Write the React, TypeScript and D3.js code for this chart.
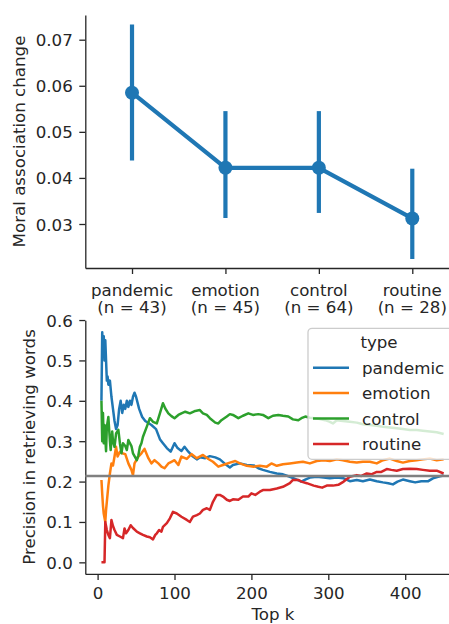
import React, { useEffect, useRef } from 'react';
import * as d3 from 'd3';

// top panel: moral association change per word type
const categories = ['pandemic', 'emotion', 'control', 'routine'];
const counts = [43, 45, 64, 28];
const meanChange = [0.0585, 0.0422, 0.0422, 0.0312];
const ciLow = [0.0438, 0.0313, 0.0324, 0.0224];
const ciHigh = [0.0733, 0.0545, 0.0545, 0.042];
const changeTicks = [0.03, 0.04, 0.05, 0.06, 0.07];

// bottom panel: precision at top k, [k, precision]
const pandemic: [number, number][] = [
  [5, 0.4], [6, 0.57], [7, 0.52], [8, 0.56], [9, 0.5], [10, 0.55], [11, 0.5], [12, 0.45], [13, 0.46],
  [14, 0.44], [16, 0.45], [18, 0.41], [20, 0.38], [22, 0.35], [24, 0.33], [26, 0.34], [28, 0.38],
  [30, 0.4], [32, 0.37], [34, 0.39], [36, 0.38], [38, 0.4], [40, 0.385], [42, 0.4], [44, 0.39],
  [46, 0.41], [48, 0.42], [50, 0.41], [54, 0.38], [58, 0.36], [62, 0.35], [66, 0.345], [70, 0.34],
  [76, 0.33], [81, 0.305], [85, 0.295], [90, 0.283], [95, 0.274], [100, 0.295], [104, 0.283],
  [109, 0.276], [113, 0.286], [118, 0.274], [124, 0.262], [129, 0.255], [133, 0.26], [140, 0.258],
  [146, 0.263], [153, 0.26], [159, 0.255], [165, 0.245], [172, 0.235], [176, 0.241], [185, 0.245],
  [194, 0.241], [203, 0.24], [209, 0.233], [215, 0.229], [224, 0.224], [233, 0.22], [241, 0.218],
  [250, 0.212], [259, 0.205], [265, 0.2], [270, 0.205], [276, 0.21], [285, 0.212], [294, 0.21],
  [302, 0.208], [311, 0.21], [320, 0.208], [328, 0.201], [337, 0.204], [345, 0.201], [354, 0.205],
  [363, 0.201], [371, 0.198], [378, 0.196], [384, 0.193], [390, 0.2], [397, 0.205], [406, 0.201],
  [413, 0.198], [421, 0.201], [430, 0.201], [436, 0.208], [445, 0.213], [450, 0.215],
];
const emotion: [number, number][] = [
  [5, 0.204], [6, 0.17], [7, 0.14], [8, 0.12], [10, 0.1], [11, 0.13], [12, 0.15], [14, 0.19],
  [16, 0.22], [18, 0.245], [20, 0.24], [22, 0.262], [24, 0.286], [26, 0.262], [29, 0.274],
  [32, 0.27], [36, 0.268], [40, 0.245], [44, 0.229], [46, 0.216], [48, 0.245], [53, 0.262],
  [57, 0.27], [61, 0.281], [66, 0.258], [70, 0.245], [74, 0.253], [79, 0.245], [83, 0.237],
  [87, 0.233], [92, 0.245], [96, 0.249], [100, 0.253], [105, 0.241], [109, 0.262], [116, 0.256],
  [122, 0.268], [129, 0.258], [137, 0.266], [144, 0.256], [150, 0.249], [157, 0.237], [163, 0.241],
  [172, 0.247], [179, 0.251], [185, 0.245], [194, 0.239], [203, 0.237], [211, 0.239], [220, 0.237],
  [226, 0.245], [233, 0.239], [241, 0.243], [250, 0.245], [259, 0.247], [267, 0.249], [276, 0.245],
  [285, 0.251], [294, 0.253], [302, 0.251], [311, 0.255], [319, 0.253], [328, 0.249], [337, 0.247],
  [345, 0.249], [354, 0.249], [363, 0.245], [371, 0.253], [380, 0.257], [389, 0.251], [397, 0.247],
  [406, 0.251], [415, 0.253], [423, 0.255], [432, 0.257], [441, 0.253], [450, 0.255],
];
const control: [number, number][] = [
  [5, 0.4], [6, 0.3], [7, 0.37], [8, 0.295], [9, 0.34], [11, 0.275], [12, 0.335], [14, 0.36],
  [16, 0.3], [17, 0.278], [19, 0.324], [20, 0.3], [22, 0.286], [24, 0.319], [27, 0.328],
  [29, 0.295], [31, 0.27], [33, 0.295], [36, 0.288], [38, 0.278], [40, 0.303], [42, 0.295],
  [44, 0.288], [46, 0.27], [51, 0.253], [53, 0.265], [55, 0.286], [57, 0.295], [59, 0.311],
  [64, 0.336], [68, 0.357], [72, 0.348], [77, 0.344], [81, 0.369], [85, 0.394], [88, 0.381],
  [92, 0.369], [96, 0.362], [100, 0.357], [105, 0.365], [109, 0.369], [114, 0.373], [120, 0.369],
  [127, 0.375], [133, 0.377], [137, 0.369], [142, 0.365], [146, 0.357], [153, 0.346], [157, 0.344],
  [161, 0.352], [168, 0.361], [172, 0.367], [176, 0.365], [183, 0.357], [189, 0.363], [196, 0.369],
  [202, 0.365], [209, 0.367], [215, 0.365], [222, 0.357], [228, 0.363], [235, 0.365], [241, 0.363],
  [248, 0.361], [254, 0.354], [261, 0.352], [265, 0.357], [270, 0.361], [276, 0.358], [283, 0.357],
  [289, 0.355], [296, 0.352], [302, 0.348], [306, 0.344], [311, 0.352], [319, 0.35], [328, 0.348],
  [337, 0.346], [345, 0.342], [354, 0.34], [363, 0.338], [371, 0.336], [380, 0.334], [389, 0.332],
  [397, 0.33], [406, 0.328], [415, 0.328], [423, 0.326], [432, 0.324], [441, 0.322], [450, 0.318],
];
const routine: [number, number][] = [
  [5, 0], [9, 0], [10, 0.1], [11, 0.09], [12, 0.08], [14, 0.068], [16, 0.06], [18, 0.105],
  [20, 0.09], [22, 0.08], [25, 0.068], [29, 0.064], [33, 0.06], [35, 0.084], [37, 0.072],
  [40, 0.08], [43, 0.092], [46, 0.085], [51, 0.076], [55, 0.072], [59, 0.068], [64, 0.064],
  [68, 0.062], [72, 0.057], [75, 0.068], [77, 0.072], [80, 0.08], [83, 0.076], [85, 0.088],
  [90, 0.097], [94, 0.109], [98, 0.125], [103, 0.121], [109, 0.113], [116, 0.105], [120, 0.1],
  [124, 0.113], [129, 0.117], [133, 0.121], [137, 0.13], [142, 0.134], [146, 0.13], [150, 0.15],
  [155, 0.167], [159, 0.167], [163, 0.163], [168, 0.155], [172, 0.152], [176, 0.156], [183, 0.155],
  [189, 0.163], [196, 0.163], [200, 0.171], [205, 0.167], [211, 0.175], [215, 0.179], [224, 0.179],
  [233, 0.183], [241, 0.187], [250, 0.196], [254, 0.204], [261, 0.204], [265, 0.2], [272, 0.196],
  [281, 0.19], [287, 0.187], [292, 0.185], [298, 0.19], [306, 0.19], [313, 0.192], [320, 0.2],
  [328, 0.212], [337, 0.216], [343, 0.214], [350, 0.22], [356, 0.218], [363, 0.224], [369, 0.224],
  [376, 0.231], [382, 0.229], [389, 0.227], [397, 0.231], [406, 0.232], [415, 0.231], [423, 0.229],
  [432, 0.227], [441, 0.227], [450, 0.22],
];
const seriesNames = ['pandemic', 'emotion', 'control', 'routine'];
const seriesColors = ['#1f77b4', '#ff7f0e', '#2ca02c', '#d62728'];
const chanceLevel = 0.2136;
const precisionTicks = [0, 0.1, 0.2, 0.3, 0.4, 0.5, 0.6];
const kTicks = [0, 100, 200, 300, 400];

const FONT = 'DejaVu Sans';
const FS = 16.67;
const INK = '#262626';

function styleAxis(g: d3.Selection<SVGGElement, unknown, null, undefined>) {
  g.attr('font-family', FONT).attr('font-size', FS);
  g.select('.domain').attr('stroke', INK).attr('stroke-width', 1.3);
  g.selectAll('.tick line').attr('stroke', INK).attr('stroke-width', 1.3);
  g.selectAll('.tick text').attr('fill', INK);
}

export default function App() {
  const ref = useRef<SVGSVGElement>(null);

  useEffect(() => {
    const svg = d3.select(ref.current);
    svg.selectAll('*').remove();

    // ---------- top panel ----------
    const x1 = d3.scaleLinear().domain([-0.5, 3.5]).range([85.3, 459]);
    const y1 = d3.scaleLinear().domain([0.02045, 0.07536]).range([268, 15]);

    const top = svg.append('g');
    const yAx1 = top
      .append('g')
      .attr('transform', 'translate(85.3,0)')
      .call(d3.axisLeft(y1).tickValues(changeTicks).tickFormat(d3.format('.2f')).tickSize(6).tickSizeOuter(0).tickPadding(6.5));
    styleAxis(yAx1);
    yAx1.selectAll('.tick text').attr('dy', '0.36em');

    const xAx1 = top
      .append('g')
      .attr('transform', 'translate(0,268)')
      .call(d3.axisBottom(x1).tickValues([0, 1, 2, 3]).tickFormat(() => '').tickSize(6).tickSizeOuter(0));
    styleAxis(xAx1);

    top
      .append('g')
      .selectAll('text')
      .data(categories)
      .enter()
      .append('text')
      .attr('font-family', FONT)
      .attr('font-size', FS)
      .attr('fill', INK)
      .attr('text-anchor', 'middle')
      .each(function (d, i) {
        const t = d3.select(this);
        t.append('tspan').attr('x', x1(i)).attr('y', 295.5).text(d);
        t.append('tspan').attr('x', x1(i)).attr('y', 313).text('(n = ' + counts[i] + ')');
      });

    top
      .append('text')
      .attr('transform', 'translate(25,141.5) rotate(-90)')
      .attr('text-anchor', 'middle')
      .attr('font-family', FONT)
      .attr('font-size', FS)
      .attr('fill', INK)
      .text('Moral association change');

    // error bars
    top
      .append('g')
      .selectAll('line')
      .data(categories)
      .enter()
      .append('line')
      .attr('x1', (d, i) => x1(i))
      .attr('x2', (d, i) => x1(i))
      .attr('y1', (d, i) => y1(ciLow[i]))
      .attr('y2', (d, i) => y1(ciHigh[i]))
      .attr('stroke', '#1f77b4')
      .attr('stroke-width', 4.2);

    const meanLine = d3
      .line<number>()
      .x((d, i) => x1(i))
      .y((d) => y1(d));
    top
      .append('path')
      .attr('d', meanLine(meanChange))
      .attr('fill', 'none')
      .attr('stroke', '#1f77b4')
      .attr('stroke-width', 4.2);

    top
      .append('g')
      .selectAll('circle')
      .data(meanChange)
      .enter()
      .append('circle')
      .attr('cx', (d, i) => x1(i))
      .attr('cy', (d) => y1(d))
      .attr('r', 7)
      .attr('fill', '#1f77b4');

    // ---------- bottom panel ----------
    const x2 = d3.scaleLinear().domain([-16, 472]).range([85.3, 85.3 + 488 * 0.769]);
    const y2 = d3.scaleLinear().domain([-0.0286, 0.5996]).range([573.9, 320.2]);

    const bot = svg.append('g');
    const yAx2 = bot
      .append('g')
      .attr('transform', 'translate(85.3,0)')
      .call(d3.axisLeft(y2).tickValues(precisionTicks).tickFormat(d3.format('.1f')).tickSize(6).tickSizeOuter(0).tickPadding(6.5));
    styleAxis(yAx2);
    yAx2.selectAll('.tick text').attr('dy', '0.36em');

    const xAx2 = bot
      .append('g')
      .attr('transform', 'translate(0,573.9)')
      .call(d3.axisBottom(x2).tickValues(kTicks).tickFormat(d3.format('d')).tickSize(6).tickSizeOuter(0).tickPadding(7));
    styleAxis(xAx2);

    bot
      .append('text')
      .attr('transform', 'translate(35,447) rotate(-90)')
      .attr('text-anchor', 'middle')
      .attr('font-family', FONT)
      .attr('font-size', FS)
      .attr('fill', INK)
      .text('Precision in retrieving words');

    bot
      .append('text')
      .attr('x', x2(228))
      .attr('y', 619.5)
      .attr('text-anchor', 'middle')
      .attr('font-family', FONT)
      .attr('font-size', FS)
      .attr('fill', INK)
      .text('Top k');

    const precLine = d3
      .line<[number, number]>()
      .x((d) => x2(d[0]))
      .y((d) => y2(d[1]));

    [pandemic, emotion, control, routine].forEach((s, i) => {
      bot
        .append('path')
        .attr('d', precLine(s))
        .attr('fill', 'none')
        .attr('stroke', seriesColors[i])
        .attr('stroke-width', 2.5)
        .attr('stroke-linejoin', 'round');
    });

    bot
      .append('line')
      .attr('x1', x2(-16))
      .attr('x2', x2(472))
      .attr('y1', y2(chanceLevel))
      .attr('y2', y2(chanceLevel))
      .attr('stroke', '#808080')
      .attr('stroke-width', 2.5);

    // legend
    const legend = bot.append('g');
    legend
      .append('rect')
      .attr('x', 308)
      .attr('y', 328.3)
      .attr('width', 150)
      .attr('height', 131)
      .attr('rx', 4)
      .attr('fill', 'white')
      .attr('fill-opacity', 0.8)
      .attr('stroke', '#cccccc')
      .attr('stroke-width', 1.3);
    legend
      .append('text')
      .attr('x', 379)
      .attr('y', 348)
      .attr('text-anchor', 'middle')
      .attr('font-family', FONT)
      .attr('font-size', FS)
      .attr('fill', INK)
      .text('type');
    const rows = legend
      .selectAll('g.row')
      .data(seriesNames)
      .enter()
      .append('g')
      .attr('class', 'row')
      .attr('transform', (d, i) => 'translate(0,' + (367.7 + i * 25.4) + ')');
    rows
      .append('line')
      .attr('x1', 313)
      .attr('x2', 349)
      .attr('stroke', (d, i) => seriesColors[i])
      .attr('stroke-width', 2.5);
    rows
      .append('text')
      .attr('x', 362)
      .attr('y', 6.2)
      .attr('font-family', FONT)
      .attr('font-size', FS)
      .attr('fill', INK)
      .text((d) => d);
  }, []);

  return (
    <svg
      ref={ref}
      width={449}
      height={624}
      style={{ position: 'absolute', left: 0, top: 0, background: 'white' }}
    />
  );
}
